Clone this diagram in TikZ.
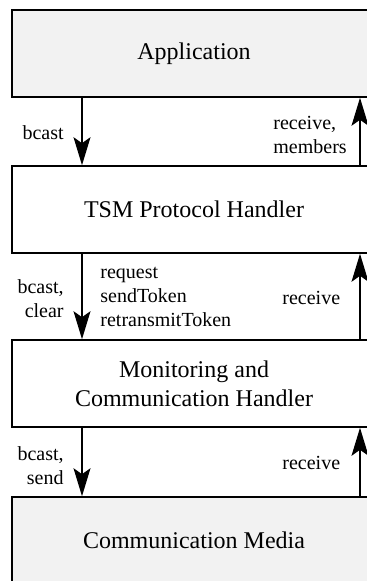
\documentclass[tikz,border=0pt]{standalone}
\usepackage{fontspec}
\setmainfont{Liberation Serif}
\usetikzlibrary{arrows.meta}
\definecolor{mediagray}{HTML}{F2F2F2}
\tikzset{
  layer/.style={draw,line width=0.8pt,rectangle,minimum width=182pt,minimum height=43.5pt,inner sep=0pt,font=\fontsize{12}{14.4}\selectfont,align=center},
  layer-g/.style={layer,fill=mediagray},
  flow/.style={-{Stealth[length=14pt,width=8.5pt,inset=3pt]},line width=0.6pt},
  lbl/.style={inner sep=0pt,font=\fontsize{10}{12}\selectfont},
}
\begin{document}
\begin{tikzpicture}[x=0.5pt,y=-0.5pt]

  \useasboundingbox (0,0) rectangle (367,581);
  \clip (0,0) rectangle (367,581);

  % LAYERS
  \node[layer-g] (app) at (194,53.5)  {Application};
  \node[layer]   (tsm) at (194,209.5) {TSM Protocol Handler};
  \node[layer]   (mch) at (194,383.5) {Monitoring and\\Communication Handler};
  \node[layer-g] (med) at (194,540.5) {Communication Media};

  % APPLICATION <-> TSM
  \draw[flow] ([xshift=-56pt]app.south) -- ([xshift=-56pt]tsm.north);
  \draw[flow] ([xshift=83pt]tsm.north) -- ([xshift=83pt]app.south);
  \node[lbl,anchor=east] (l1) at (64,133) {bcast};
  \node[lbl,anchor=west,align=left] (l2) at (273,135) {receive,\\members};

  % TSM <-> MONITORING
  \draw[flow] ([xshift=-56pt]tsm.south) -- ([xshift=-56pt]mch.north);
  \draw[flow] ([xshift=83pt]mch.north) -- ([xshift=83pt]tsm.south);
  \node[lbl,anchor=east,align=right] (l3) at (64,299) {bcast,\\clear};
  \node[lbl,anchor=west,align=left] (l4) at (100,297) {request\\sendToken\\retransmitToken};
  \node[lbl,anchor=west] (l5) at (282,298) {receive};

  % MONITORING <-> MEDIA
  \draw[flow] ([xshift=-56pt]mch.south) -- ([xshift=-56pt]med.north);
  \draw[flow] ([xshift=83pt]med.north) -- ([xshift=83pt]mch.south);
  \node[lbl,anchor=east,align=right] (l6) at (64,466) {bcast,\\send};
  \node[lbl,anchor=west] (l7) at (282,463) {receive};

\end{tikzpicture}
\end{document}
